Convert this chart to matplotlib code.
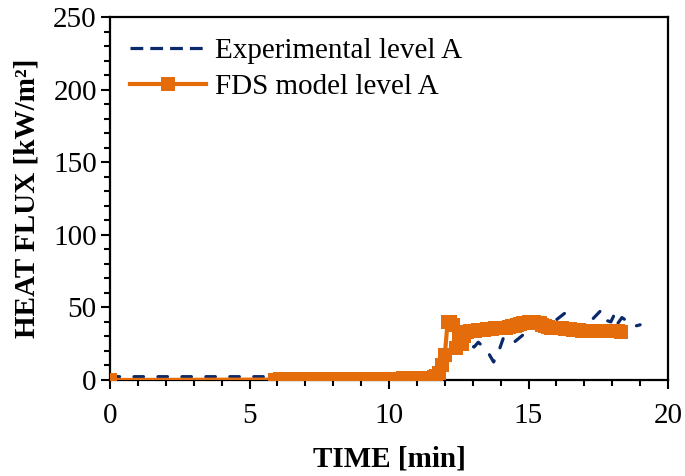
import numpy as np
import matplotlib
matplotlib.use("Agg")
import matplotlib.pyplot as plt
from matplotlib.ticker import MultipleLocator

plt.rcParams['font.family'] = ['Liberation Serif', 'DejaVu Serif']

# Experimental, level A (dashed navy)
exp_time = [0, 1, 2, 3, 4, 5, 6, 7, 8, 9, 10, 11, 11.9, 12.1, 12.4, 12.7, 12.9,
            13.05, 13.2, 13.5, 13.75, 13.95, 14.1, 14.3, 14.45, 14.8, 15.1, 15.5,
            15.9, 16.3, 16.6, 16.75, 16.9, 17.25, 17.6, 17.8, 17.95, 18.1, 18.2,
            18.35, 18.8, 19.0]
exp_flux = [2.3, 2.3, 2.3, 2.3, 2.3, 2.3, 2.3, 2.3, 2.3, 2.3, 2.3, 2.3, 2.3, 15.8,
            21, 20.7, 24, 22.7, 26, 20.7, 12.4, 20.7, 29, 27, 25.5, 31, 35, 38,
            40, 46, 39, 36, 38, 41, 48, 41, 40, 46, 39, 43, 37, 38]

# FDS model, level A: first sample at t=0, then every 0.1 min from 5.9 to 18.3
fds_time = [0.0] + list(np.round(np.arange(5.9, 18.35, 0.1), 1))
fds_flux = [0.0,
            0.3, 0.3, 0.4, 0.4, 0.4, 0.4, 0.4, 0.5, 0.5, 0.5,
            0.5, 0.5, 0.5, 0.5, 0.6, 0.6, 0.6, 0.6, 0.6, 0.6,
            0.6, 0.7, 0.7, 0.7, 0.7, 0.7, 0.7, 0.7, 0.8, 0.8,
            0.8, 0.8, 0.8, 0.8, 0.8, 0.9, 0.9, 0.9, 0.9, 0.9,
            0.9, 1.0, 1.0, 1.0, 1.0, 1.0, 1.1, 1.1, 1.1, 1.2,
            1.2, 1.2, 1.3, 1.3, 1.4, 1.5, 1.6, 1.9, 2.6, 4.5,
            10, 17, 40, 40, 38, 22, 28, 25, 30, 33,
            33.5, 34, 34, 34.5, 34.5, 34.5, 35, 35, 35, 35.5,
            35.5, 35.5, 36, 36, 36.5, 37, 37.5, 38, 38.5, 39,
            39.5, 40, 40, 40, 39.5, 39, 38, 37, 36.5, 36,
            36, 35.5, 35.5, 35.5, 35, 35, 35, 34.5, 34.5, 34.5,
            34, 34, 34, 34, 33.5, 33.5, 33.5, 33.5, 33.5, 33.5,
            33.5, 33.5, 33.5, 33.5, 33]

navy = '#0B2A6B'
orange = '#E46C0A'

fig = plt.figure(figsize=(6.85, 4.76), dpi=100)
ax = fig.add_axes([110/685, 1 - 380/476, 558/685, 363/476])

ax.plot(exp_time, exp_flux, color=navy, linewidth=2.3, linestyle=(0, (3, 4.5)),
        dash_capstyle='round', label='Experimental level A', zorder=2)
ax.plot(fds_time, fds_flux, color=orange, linewidth=3, marker='s', markersize=9.5,
        markeredgewidth=0, label='FDS model level A', zorder=3)

ax.set_xlim(0, 20)
ax.set_ylim(0, 250)
ax.xaxis.set_major_locator(MultipleLocator(5))
ax.xaxis.set_minor_locator(MultipleLocator(1))
ax.yaxis.set_major_locator(MultipleLocator(50))
ax.yaxis.set_minor_locator(MultipleLocator(10))
ax.tick_params(which='both', direction='out', top=False, right=False, width=1.5,
               labelsize=21)
ax.tick_params(which='major', length=6.5)
ax.tick_params(which='minor', length=4.5)
ax.tick_params(axis='x', pad=10)
ax.tick_params(axis='y', pad=3)
for sp in ax.spines.values():
    sp.set_linewidth(1.6)

ax.set_xlabel('TIME [min]', fontsize=21, fontweight='bold', labelpad=12)
ax.set_ylabel('HEAT FLUX [kW/m²]', fontsize=21, fontweight='bold', labelpad=9)

leg = ax.legend(loc='upper left', bbox_to_anchor=(0.0, 1.0), frameon=False,
                fontsize=21, handlelength=2.6, handletextpad=0.3,
                labelspacing=0.35, borderaxespad=0.3)
leg.get_lines()[0].set_linestyle((0, (4, 2.2)))
leg.get_lines()[0].set_dash_capstyle('butt')

fig.savefig('out.png', dpi=100)
